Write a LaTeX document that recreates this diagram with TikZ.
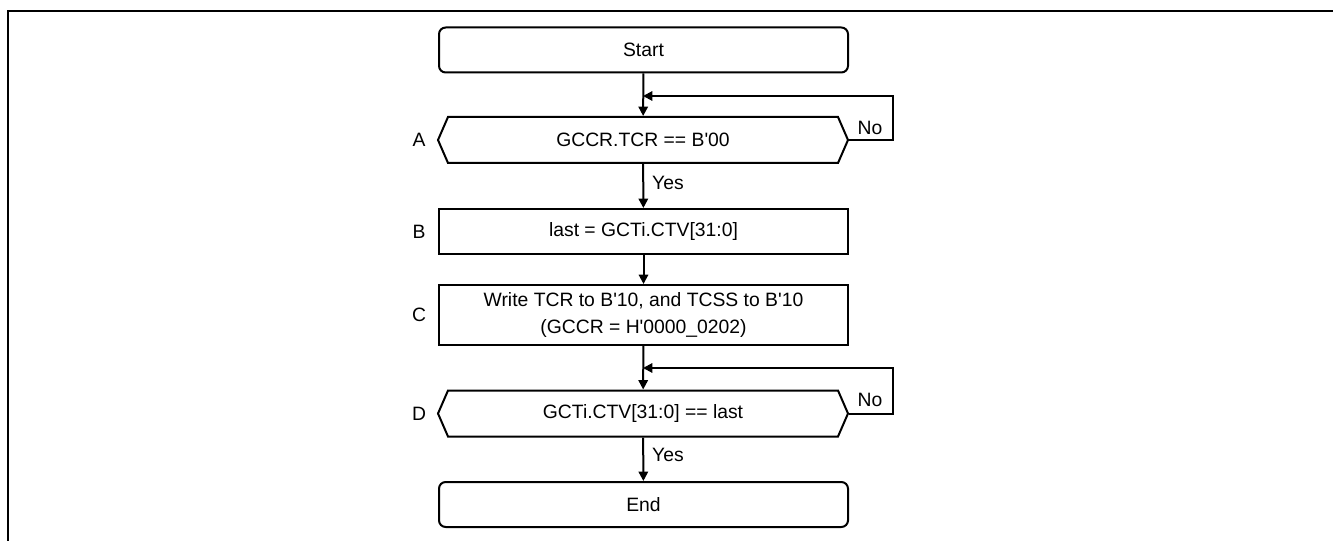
\documentclass[tikz,border=0pt]{standalone}
\usepackage{fontspec}
\setmainfont{Liberation Sans}
\usetikzlibrary{arrows.meta,positioning,shapes.symbols}

\begin{document}
\begin{tikzpicture}[x=0.75pt,y=-0.75pt,line width=1.5pt,font=\fontsize{14.5}{20}\selectfont,
  box/.style={draw,minimum width=306.75pt,minimum height=33.75pt,inner sep=0pt,align=center},
  term/.style={box,rounded corners=5pt},
  dec/.style={box,signal,signal to=west and east,signal pointer angle=133,minimum width=307.5pt,minimum height=34.5pt},
  arr/.style={-{Triangle[length=7pt,width=7pt]}}]
\useasboundingbox (0,0) rectangle (1333,541);
\draw[line width=1.6pt] (8,541) -- (8,11) -- (1333,11);
% flow steps
\node[term] (start) at (643.5,50) {Start};
\node[dec] (a) at (643,140) {GCCR.TCR == B\textquotesingle 00};
\node[box] (b) at (643.5,231.5) {last = GCTi.CTV[31:0]};
\node[box,minimum height=45pt] (c) at (643.5,315) {Write TCR to B\textquotesingle 10, and TCSS to B\textquotesingle 10\\(GCCR = H\textquotesingle 0000\_0202)};
\node[dec] (d) at (643,413.5) {GCTi.CTV[31:0] == last};
\node[term] (end) at (643.5,504.5) {End};
\foreach \n/\y in {A/140,B/231.5,C/315,D/413.5} \node (l\n) at (419,\y) {\n};
% connectors
\coordinate (ja) at (643,96);
\coordinate (jd) at (643,368);
\draw[arr] (start) -- (a);
\draw[arr] (a) -- (b);
\draw[arr] (b) -- (c);
\draw[arr] (c) -- (d);
\draw[arr] (d) -- (end);
\draw[arr] (a.east) -- ++(44,0) |- (ja);
\draw[arr] (d.east) -- ++(44,0) |- (jd);
\node (noa) at (870,128) {No};
\node (nod) at (870,400) {No};
\node (yesa) at (668,183) {Yes};
\node (yesd) at (668,455) {Yes};
\end{tikzpicture}
\end{document}
